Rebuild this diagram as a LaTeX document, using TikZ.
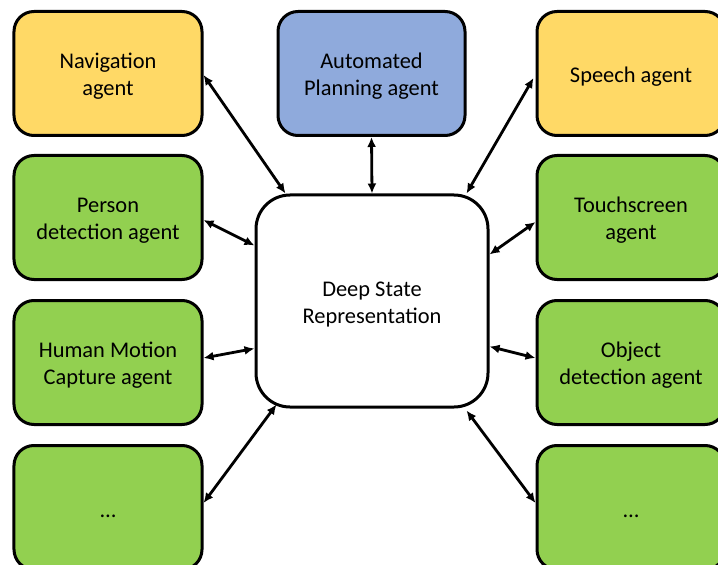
\documentclass[tikz,border=0pt]{standalone}
\usepackage{fontspec}
\setmainfont{Carlito}
\usetikzlibrary{arrows.meta,calc}
\definecolor{agentyellow}{HTML}{FFD966}
\definecolor{agentblue}{HTML}{8FAADC}
\definecolor{agentgreen}{HTML}{92D050}
% box label: centred lines, set slightly low in the box
\newcommand{\boxtext}[1]{\raisebox{-3.5bp}[\height][\depth]{\begin{tabular}{@{}c@{}}#1\end{tabular}}}
\begin{document}
\begin{tikzpicture}[x=1bp,y=-1bp,
  agent/.style={draw=black,line width=3bp,rounded corners=20bp,
    minimum width=188bp,minimum height=124bp,inner sep=0pt,
    font=\fontsize{22.5}{27}\selectfont},
  core/.style={draw=black,line width=3bp,rounded corners=34bp,fill=white,
    minimum width=232bp,minimum height=212bp,inner sep=0pt,
    font=\fontsize{22.5}{27}\selectfont},
  link/.style={line width=2.8bp,{Latex[length=10bp,width=9bp]}-{Latex[length=10bp,width=9bp]}}]
\useasboundingbox (0,0) rectangle (718,565);
% agent boxes, left column
\node[agent,fill=agentyellow] (nav) at (108,73.5) {\boxtext{Navigation\\agent}};
\node[agent,fill=agentgreen] (person) at (108,217.5) {\boxtext{Person\\detection agent}};
\node[agent,fill=agentgreen] (hmc) at (108,362.5) {\boxtext{Human Motion\\Capture agent}};
\node[agent,fill=agentgreen] (moreL) at (108,507.5) {\boxtext{\raisebox{-1bp}{\dots}}};
% top centre
\node[agent,fill=agentblue,minimum width=187bp] (plan) at (371.5,73.5) {\boxtext{Automated\\Planning agent}};
% agent boxes, right column
\node[agent,fill=agentyellow] (speech) at (631,73.5) {\boxtext{Speech agent}};
\node[agent,fill=agentgreen] (touch) at (631,217.5) {\boxtext{Touchscreen\\agent}};
\node[agent,fill=agentgreen] (obj) at (631,362.5) {\boxtext{Object\\detection agent}};
\node[agent,fill=agentgreen] (moreR) at (631,507.5) {\boxtext{\raisebox{-1bp}{\dots}}};
% shared state
\node[core] (dsr) at (372,301) {\boxtext{Deep State\\Representation}};
% connectors
\draw[link] ($(nav.east)+(0,1.5)$) -- ($(dsr.north west)+(31,0)$);
\draw[link] (plan.south) -- (dsr.north);
\draw[link] ($(speech.west)+(-2,4.5)$) -- ($(dsr.north east)+(-23,0)$);
\draw[link] ($(person.east)+(0,2.5)$) -- ($(dsr.north west)+(0,52)$);
\draw[link] ($(touch.west)+(0,4.5)$) -- ($(dsr.north east)+(0,61)$);
\draw[link] ($(hmc.east)+(0,-4.5)$) -- ($(dsr.north west)+(0,155)$);
\draw[link] ($(obj.west)+(0,-4.5)$) -- ($(dsr.north east)+(0,153)$);
\draw[link] ($(moreL.east)+(0,-4.5)$) -- ($(dsr.south west)+(22,-4)$);
\draw[link] ($(moreR.west)+(0,-4.5)$) -- ($(dsr.south east)+(-23,2)$);
\end{tikzpicture}
\end{document}
